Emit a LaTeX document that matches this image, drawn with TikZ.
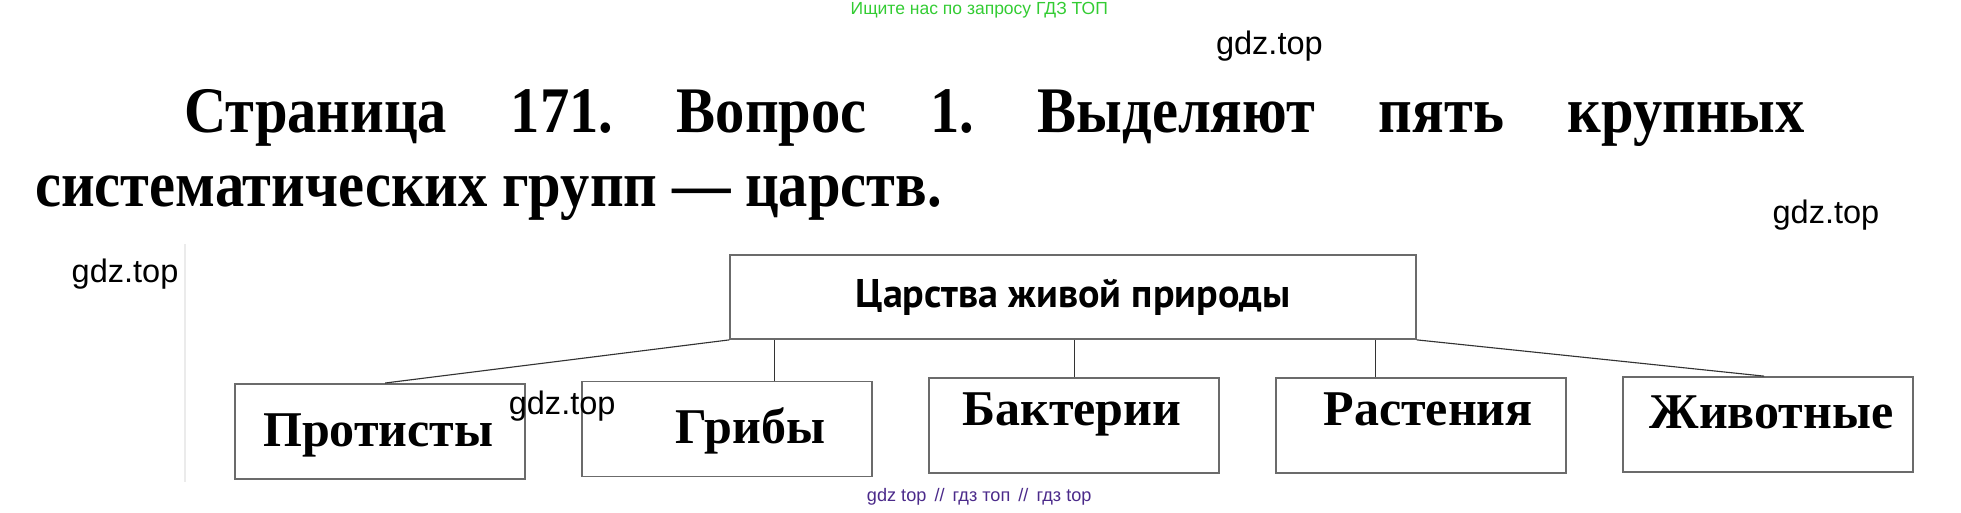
\documentclass[tikz,border=0pt]{standalone}
\usepackage{fontspec}
\setmainfont{Liberation Serif}
\newfontfamily\titlefont[FakeStretch=0.9]{Liberation Serif}
\newfontfamily\wmfont{Liberation Sans}
\newfontfamily\hdfont{PT Sans}
\definecolor{wmgreen}{HTML}{33CC33}
\definecolor{wmpurple}{HTML}{4B2A8A}
\definecolor{boxline}{gray}{0.42}
\begin{document}
\begin{tikzpicture}[x=1pt,y=-1pt,
  box/.style={draw=boxline, line width=1.5pt, minimum width=232pt, minimum height=76pt, inner sep=0pt},
  link/.style={draw=black!80, line width=0.9pt},
  boxtext/.style={anchor=base, inner sep=0pt, font=\fontsize{40}{44}\selectfont\bfseries},
  titletext/.style={anchor=base west, inner sep=0pt, font=\titlefont\fontsize{52}{56}\selectfont\bfseries\frenchspacing},
  wm/.style={inner sep=0pt, font=\wmfont\fontsize{26}{28}\selectfont}]
\useasboundingbox (0,0) rectangle (1568,409.4);
% faint scan edge
\draw[black!8, line width=1pt] (148,195) -- (148,385);
% watermarks
\node[inner sep=0pt, text=wmgreen, font=\wmfont\fontsize{14}{15}\selectfont] (wtop) at (783,8) {Ищите нас по запросу ГДЗ ТОП};
\node[wm] (g1) at (1015,37) {gdz.top};
\node[wm] (g2) at (1460,172) {gdz.top};
\node[wm] (g3) at (100,219) {gdz.top};
% title
\node[titletext] (t1) at (147,106) {\makebox[1296pt][s]{Страница 171. Вопрос 1. Выделяют пять крупных}};
\node[titletext] (t2) at (28,165) {систематических групп — царств.};
% top box
\node[box, minimum width=548pt, minimum height=67pt] (top) at (858,237.5) {};
\node[inner sep=0pt, font=\hdfont\fontsize{32}{34}\selectfont\bfseries] (toptext) at (858,238) {Царства живой природы};
% bottom boxes
\node[box] (prot) at (304,345) {};
\node[box] (grib) at (581.5,343) {};
\node[box] (bakt) at (858.5,340.5) {};
\node[box] (rast) at (1136,340.5) {};
\node[box] (zhiv) at (1413.5,339.5) {};
\node[boxtext] (protT) at (302.5,357) {Протисты};
\node[boxtext] (gribT) at (600,355) {Грибы};
\node[boxtext] (baktT) at (857,340) {Бактерии};
\node[boxtext] (rastT) at (1142,340) {Растения};
\node[boxtext] (zhivT) at (1416.5,343) {Животные};
% connectors
\draw[link] (top.south west) -- ([xshift=4pt]prot.north);
\draw[link] ([xshift=36pt]top.south west) -- ([xshift=36pt]top.south west |- grib.north);
\draw[link] ([xshift=1pt]top.south) -- ([xshift=1pt]top.south |- bakt.north);
\draw[link] ([xshift=-33pt]top.south east) -- ([xshift=-33pt]top.south east |- rast.north);
\draw[link] (top.south east) -- ([xshift=-3pt]zhiv.north);
\node[wm] (g4) at (449.5,325) {gdz.top};
\node[inner sep=0pt, text=wmpurple, font=\wmfont\fontsize{14.5}{16}\selectfont] (wbot) at (783,397) {gdz top \,//\, гдз топ \,//\, гдз top};
\end{tikzpicture}
\end{document}
